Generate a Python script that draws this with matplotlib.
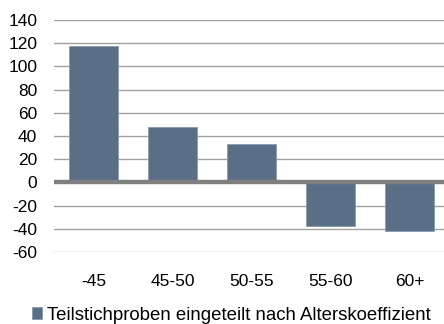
import matplotlib.pyplot as plt
from matplotlib.patches import Patch

categories = ["-45", "45-50", "50-55", "55-60", "60+"]
values = [118, 48, 33, -38, -42]
yticks = [-60, -40, -20, 0, 20, 40, 60, 80, 100, 120, 140]
legend_label = "Teilstichproben eingeteilt nach Alterskoeffizient"

plt.rcParams['font.family'] = ['Liberation Sans', 'DejaVu Sans']
plt.rcParams['axes.unicode_minus'] = False

fig = plt.figure(figsize=(4.44, 3.24), dpi=100)
# plot area runs past the right edge of the picture, as in the reference
ax = fig.add_axes([54 / 444, 72 / 324, 395 / 444, 232 / 324])

x = list(range(len(categories)))
ax.bar(x, values, width=0.62, color='#5a6e85', edgecolor='#8a9bb0',
       linewidth=0.6, zorder=3)

ax.set_xlim(-0.5, len(categories) - 0.5)
ax.set_ylim(-60, 140)
ax.set_yticks(yticks)
ax.set_xticks(x)
ax.set_xticklabels(categories)
ax.yaxis.grid(True, color='#a0a0a0', linewidth=1.0, zorder=0)
ax.set_axisbelow(True)
ax.axhline(0, color='#7f7f7f', linewidth=3.2, zorder=4)

for s in ax.spines.values():
    s.set_visible(False)
ax.tick_params(axis='both', length=0, labelsize=12.5, colors='black')
ax.tick_params(axis='y', pad=12)
ax.tick_params(axis='x', pad=16)

handle = Patch(facecolor='#5a6e85', edgecolor='#8a9bb0', linewidth=0.6)
fig.legend([handle], [legend_label], loc='center', bbox_to_anchor=(231 / 444, 1 - 315 / 324),
           frameon=False, fontsize=13.4, handlelength=0.55, handleheight=0.55,
           handletextpad=0.25, borderaxespad=0, borderpad=0)

fig.savefig("out.png", dpi=100)
